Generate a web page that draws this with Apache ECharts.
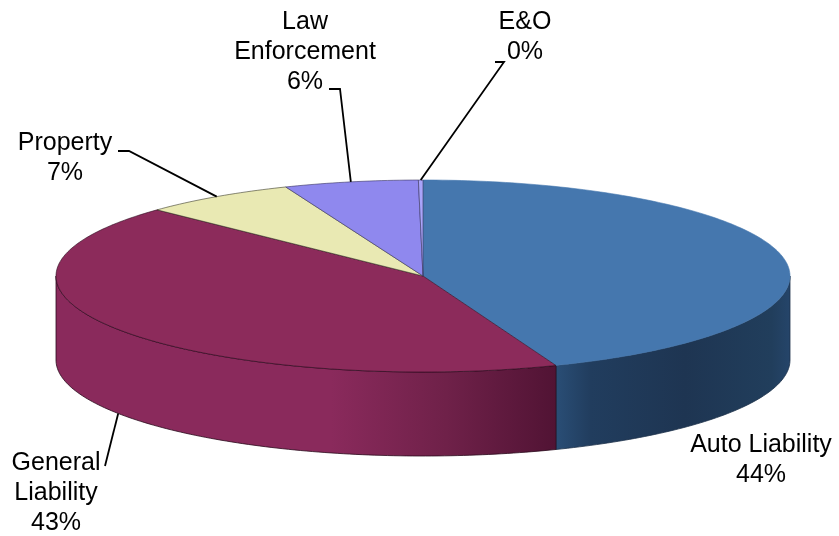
<!DOCTYPE html>
<html><head><meta charset="utf-8">
<style>html,body{margin:0;padding:0;background:#fff}#c{width:839px;height:536px}</style>
<script src="https://cdn.jsdelivr.net/npm/echarts@6/dist/echarts.min.js"></script>
</head><body><div id="c"></div>
<script>
var categories = ['Auto Liability', 'General Liability', 'Property', 'Law Enforcement', 'E&O'];
var shareValues = [44.1, 43.0, 6.8, 5.9, 0.2];
var percentLabels = ['44%', '43%', '7%', '6%', '0%'];
var labelLines = [['Auto Liability'], ['General', 'Liability'], ['Property'], ['Law', 'Enforcement'], ['E&O']];
var topColors = ['#4577ae', '#8c2b5b', '#e9e9b3', '#8f88ee', '#a9a4fa'];
var topStrokes = ['#4577ae', '#2a0a1c', '#3a3a2a', '#3a3560', '#3a3560'];

// layout and style
var CX = 423, CY = 276, RX = 367, RY = 96, DEPTH = 84;
var LINE = 30, FONT = '25px "Liberation Sans", Arial, sans-serif';
var labelBox = [
  {x: 761, y: 445},
  {x: 56, y: 463},
  {x: 65, y: 143},
  {x: 305, y: 22},
  {x: 525, y: 22}
];
var leaderStart = [null, [[105, 466]], [[118, 151], [129, 151]], [[329, 89], [340, 89]], [[495, 62], [504, 62]]];
var sideStops = [
  [[0, '#2a4e76'], [0.15, '#213d5e'], [0.55, '#1e3552'], [0.92, '#213e5c'], [1, '#25456a']],
  [[0, '#8a2a5c'], [0.55, '#8a2a5c'], [0.78, '#6f2149'], [1, '#511334']]
];

var total = shareValues.reduce(function (a, b) { return a + b; }, 0);
var starts = [], acc = 0;
shareValues.forEach(function (v) { starts.push(acc / total * 360); acc += v; });
function pt(deg, dy) {
  var r = deg * Math.PI / 180;
  return [CX + RX * Math.sin(r), CY - RY * Math.cos(r) + (dy || 0)];
}
function arc(a, b, dy) {
  var out = [], n = Math.max(2, Math.ceil(Math.abs(b - a)));
  for (var i = 0; i <= n; i++) out.push(pt(a + (b - a) * i / n, dy));
  return out;
}

function renderItem(params, api) {
  var i = params.dataIndex;
  var a = starts[i], b = a + api.value(1) / total * 360;
  var kids = [];
  // side wall: only the near half of the rim shows
  var sa = Math.max(a, 90), sb = Math.min(b, 270);
  if (sb > sa) {
    var top = arc(sa, sb, 0), bot = arc(sa, sb, DEPTH).reverse();
    kids.push({
      type: 'polygon', z2: i === 1 ? 2 : 1,
      shape: {points: top.concat(bot)},
      style: {
        fill: new echarts.graphic.LinearGradient(0, 0, 1, 0,
          sideStops[i].map(function (s) { return {offset: s[0], color: s[1]}; })),
        stroke: i === 1 ? '#2a0a1c' : '#1c3049', lineWidth: 0.8
      }
    });
  }
  // top face
  kids.push({
    type: 'polygon', z2: 3,
    shape: {points: [[CX, CY]].concat(arc(a, b, 0))},
    style: {fill: topColors[i], stroke: topStrokes[i], lineWidth: 0.6}
  });
  // leader line, ending at the middle of the slice's rim
  if (leaderStart[i]) {
    var mid = (a + b) / 2;
    var visibleFront = mid > 90 && mid < 270;
    kids.push({
      type: 'polyline', z2: 5,
      shape: {points: leaderStart[i].concat([pt(mid, visibleFront ? DEPTH : 0)])},
      style: {fill: null, stroke: '#000', lineWidth: 1.8}
    });
  }
  // label
  var lines = labelLines[i].concat([percentLabels[i]]);
  lines.forEach(function (t, k) {
    kids.push({
      type: 'text', z2: 6, x: labelBox[i].x, y: labelBox[i].y + k * LINE,
      style: {text: t, font: FONT, fill: '#000', align: 'center', verticalAlign: 'middle'}
    });
  });
  return {type: 'group', children: kids};
}

var chart = echarts.init(document.getElementById('c'), null, {renderer: 'canvas'});
chart.setOption({
  animation: false,
  backgroundColor: '#ffffff',
  series: [{
    type: 'custom',
    coordinateSystem: 'none',
    renderItem: renderItem,
    data: categories.map(function (c, i) { return {name: c, value: [i, shareValues[i]]}; })
  }]
});
</script></body></html>
